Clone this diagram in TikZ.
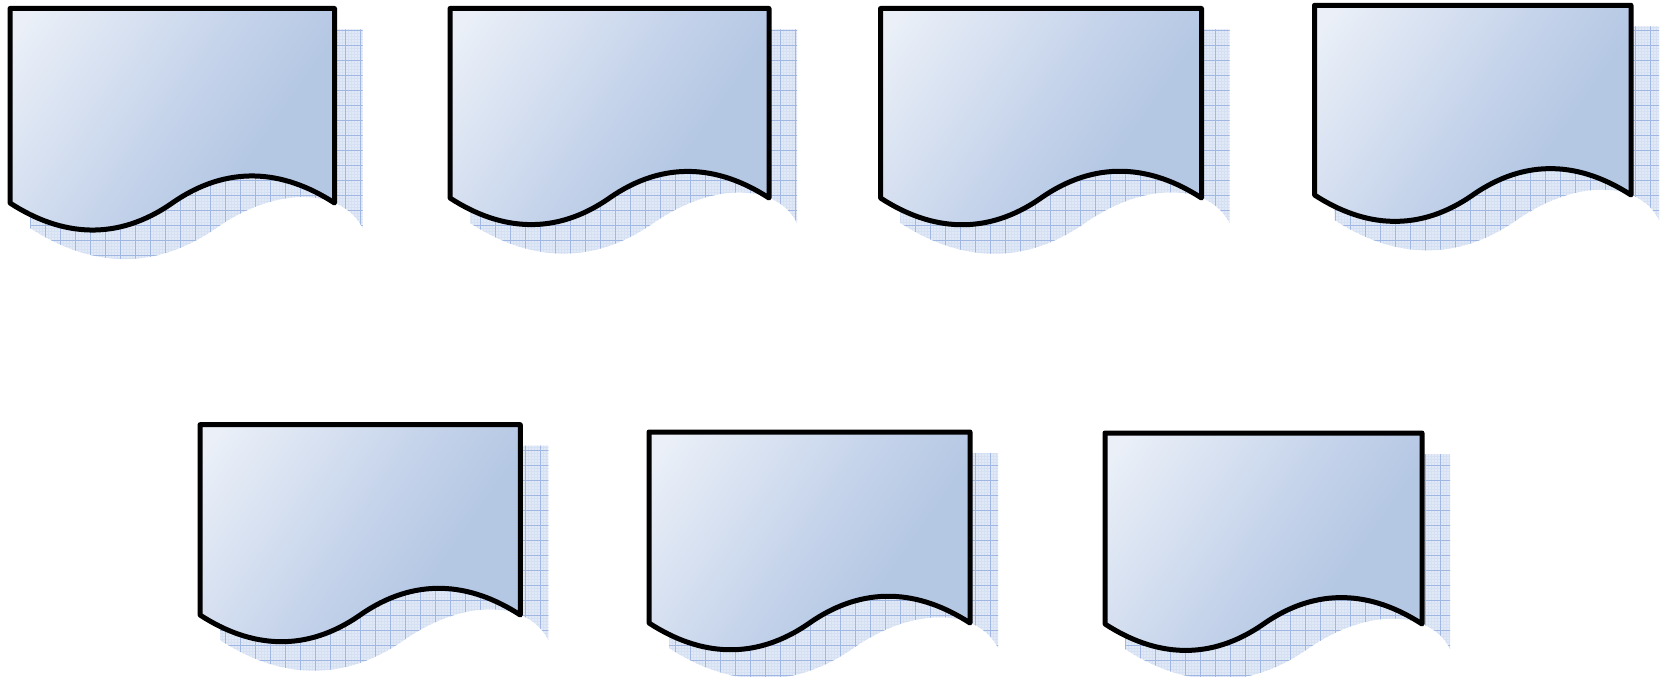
\documentclass[tikz,border=0pt]{standalone}
\usepackage{tikz}

\definecolor{docLight}{HTML}{EBF0F8}
\definecolor{docMid}{HTML}{C6D4EB}
\definecolor{docDark}{HTML}{B4C7E3}
\definecolor{shadowFill}{HTML}{E2E9F6}
\definecolor{gridMajor}{HTML}{A0B7E3}
\definecolor{gridMinor}{HTML}{D5E0F3}

\pgfdeclareverticalshading{docfill}{100bp}{color(0bp)=(docDark); color(35bp)=(docDark); color(52bp)=(docMid); color(82bp)=(docLight); color(100bp)=(docLight)}

% document outline: left, right, top, side bottom
\newcommand{\docpath}[4]{(#1,#3) -- (#2,#3) -- (#2,#4)
  .. controls ({#1+0.84*(#2-#1)},{#4-0.104*(#2-#1)}) and ({#1+0.669*(#2-#1)},{#4-0.118*(#2-#1)}) .. ({#1+0.5*(#2-#1)},#4)
  .. controls ({#1+0.331*(#2-#1)},{#4+0.118*(#2-#1)}) and ({#1+0.16*(#2-#1)},{#4+0.104*(#2-#1)}) .. (#1,#4) -- cycle}

\tikzset{
  docbody/.style={line width=5pt, line join=round, shading=docfill, shading angle=55},
  docshadow/.style={fill=shadowFill},
}

\begin{document}
\begin{tikzpicture}[x=1pt,y=-1pt]
  \useasboundingbox (0,0) rectangle (1663,677);

  \foreach \xa/\xb/\yt/\yb in {10/334.5/8.5/203, 450/769/8.5/198, 880.5/1201.5/8.5/198, 1314.5/1631/5.3/195,
                               200/520.3/424.7/615, 649/970/432/623, 1105/1422/433/624}{
    % Shadow with grid paper
    \begin{scope}
      \clip \docpath{\xa+20}{\xb+28}{\yt+21}{\yb+25};
      \fill[docshadow] (\xa,\yt) rectangle (\xb+40,\yb+70);
      \draw[gridMinor, line width=0.3pt, step=3pt] (\xa,\yt) grid (\xb+40,\yb+70);
      \draw[gridMajor, line width=0.6pt, step=15pt] (\xa,\yt) grid (\xb+40,\yb+70);
    \end{scope}
    % Document
    \draw[docbody] \docpath{\xa}{\xb}{\yt}{\yb};
  }
\end{tikzpicture}
\end{document}
